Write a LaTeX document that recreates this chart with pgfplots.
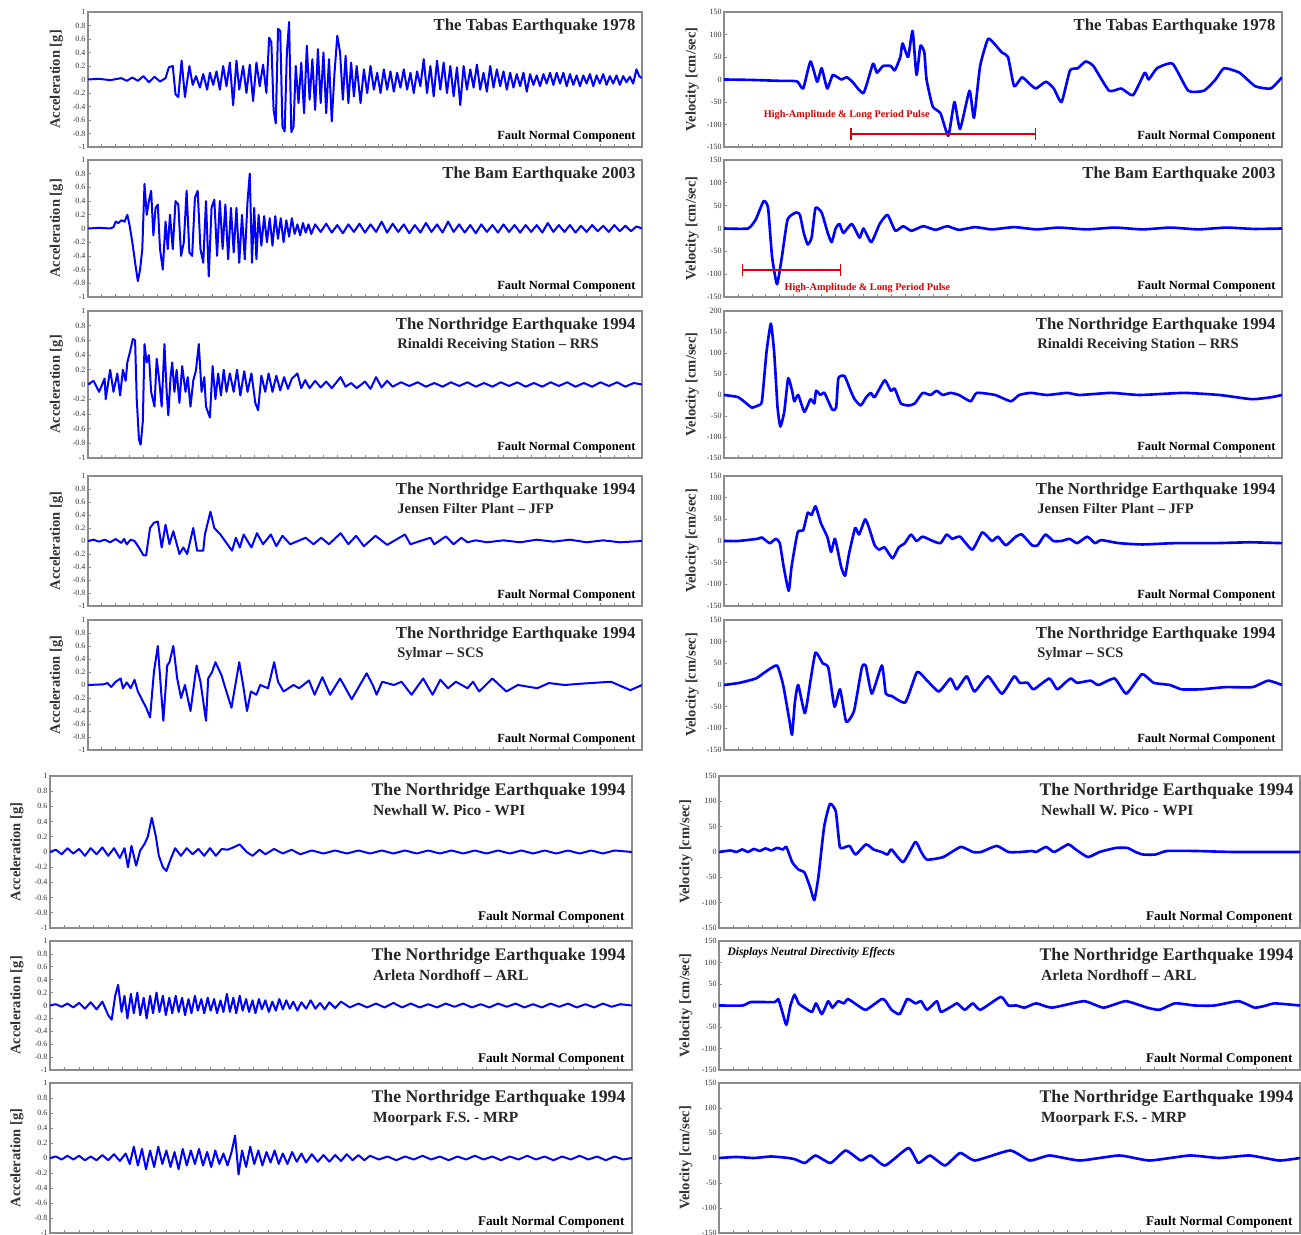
\documentclass[border=0pt]{standalone}
\usepackage{pgfplots}
\pgfplotsset{compat=1.18}
\usepackage{fontspec}
\setmainfont{Liberation Serif}
\usetikzlibrary{arrows.meta}

\pgfplotsset{
  wave/.style={scale only axis, anchor=north west, xmin=0, xmax=100, clip=true,
    axis line style={draw=black!45, line width=0.6pt},
    xtick={0,2.5,...,100}, xticklabels={}, xtick pos=bottom, ytick pos=left, tick align=inside,
    major tick length=1.2pt, every tick/.style={black!45, line width=0.3pt},
    yticklabel style={font=\fontsize{3.2}{3.5}\selectfont, inner xsep=0.8pt, text=black!80},
    /pgf/number format/assume math mode=true,
    ylabel style={at={(axis description cs:-0.057,0.5)}, anchor=center,
      font=\bfseries\fontsize{5.8}{6}\selectfont, text=black!80},
  },
  acc/.style={wave, ymin=-1, ymax=1,
    ytick={-1,-0.8,-0.6,-0.4,-0.2,0,0.2,0.4,0.6,0.8,1}, ylabel={Acceleration [g]}},
  vel/.style={wave, ymin=-150, ymax=150,
    ytick={-150,-100,-50,0,50,100,150}, ylabel={Velocity [cm/sec]}},
  tv/.style={blue, line width=1.05pt, line join=round, smooth, tension=0.3},
  ta/.style={blue, line width=0.8pt, line join=round},
  pulse/.style={red!85!black, line width=0.6pt, arrows={Bar[width=5pt]-Bar[width=5pt]}},
}

% panel captions
\newcommand{\tA}[1]{\node[anchor=north east, inner sep=0pt, font=\bfseries\fontsize{6.7}{8}\selectfont, text=black!85]
  at ([xshift=-2.4pt,yshift=-2.6pt]rel axis cs:1,1) {#1};}
\newcommand{\tB}[2]{\node[anchor=north east, inner sep=0pt, align=left, font=\bfseries\fontsize{6.7}{7.4}\selectfont, text=black!85]
  at ([xshift=-2.4pt,yshift=-2.6pt]rel axis cs:1,1) {#1\\{\fontsize{5.8}{7}\selectfont\hspace{0.6pt}#2}};}
\newcommand{\tC}[2]{\node[anchor=north east, inner sep=0pt, align=left, font=\bfseries\fontsize{7.1}{7.8}\selectfont, text=black!85]
  at ([xshift=-2.4pt,yshift=-2.8pt]rel axis cs:1,1) {#1\\{\fontsize{6.2}{7.4}\selectfont\hspace{0.6pt}#2}};}
\newcommand{\fa}{\node[anchor=base east, inner sep=0pt, font=\bfseries\fontsize{5}{6}\selectfont]
  at ([xshift=-2.4pt,yshift=2.8pt]rel axis cs:1,0) {Fault Normal Component};}
\newcommand{\fb}{\node[anchor=base east, inner sep=0pt, font=\bfseries\fontsize{5.3}{6}\selectfont]
  at ([xshift=-2.8pt,yshift=2.8pt]rel axis cs:1,0) {Fault Normal Component};}

\begin{document}
\begin{tikzpicture}
\useasboundingbox (0,0) rectangle (520.4pt,-494pt);

% ---------------- Tabas 1978 ----------------
\begin{axis}[acc, at={(35.2pt,-4.8pt)}, width=221.6pt, height=54pt]
\addplot[ta] coordinates {(0,0)(2,0.01)(4,-0.01)(6,0.02)(7,-0.02)(8,0.03)(9,-0.02)(10,0.05)(11,-0.04)(12,0.04)(13,-0.03)(14,0.02)(14.6,0.18)(15.3,0.2)(15.8,-0.22)(16.3,-0.26)(16.9,0.28)(17.5,-0.26)(18.3,0.2)(18.9,-0.08)(19.5,0.05)(20.2,-0.12)(20.8,0.08)(21.5,-0.15)(22,0.1)(22.6,-0.08)(23.2,0.12)(23.8,-0.15)(24.4,0.2)(25,-0.1)(25.6,0.25)(26.2,-0.38)(26.8,0.28)(27.3,-0.15)(28,0.2)(28.6,-0.2)(29.2,0.22)(29.8,-0.32)(30.4,0.25)(31,-0.1)(31.6,0.22)(32.2,-0.2)(32.7,0.62)(33.1,0.55)(33.5,-0.45)(33.9,-0.65)(34.3,0.75)(34.7,0.72)(35.1,-0.7)(35.5,-0.77)(35.9,0.4)(36.3,0.85)(36.7,-0.78)(37.1,-0.7)(37.5,0.2)(38,-0.35)(38.5,0.25)(39,-0.5)(39.5,0.5)(40,-0.3)(40.5,0.3)(41,-0.45)(41.5,0.45)(42,-0.35)(42.5,0.4)(43,-0.5)(43.5,0.3)(44,-0.62)(44.5,0.1)(45,0.65)(45.5,0.4)(46,-0.3)(46.5,0.35)(47,-0.35)(47.5,0.25)(48,-0.25)(48.5,0.2)(49.2,-0.35)(49.8,0.15)(50.4,-0.2)(51,0.2)(51.6,-0.15)(52.2,0.1)(52.8,-0.2)(53.4,0.15)(54,-0.15)(54.6,0.12)(55.2,-0.18)(55.8,0.1)(56.4,-0.12)(57,0.15)(57.6,-0.15)(58.2,0.1)(58.8,-0.2)(59.4,0.12)(60,-0.1)(60.6,0.3)(61.2,-0.2)(61.8,0.2)(62.4,-0.25)(63,0.28)(63.6,-0.15)(64.2,0.25)(64.8,-0.2)(65.4,0.2)(66,-0.25)(66.6,0.18)(67.2,-0.38)(67.8,0.2)(68.4,-0.15)(69,0.15)(69.6,-0.12)(70.2,0.22)(70.8,-0.15)(71.4,0.1)(72,-0.18)(72.6,0.2)(73.2,-0.12)(73.8,0.15)(74.4,-0.1)(75,0.12)(75.6,-0.15)(76.2,0.1)(76.8,-0.12)(77.4,0.08)(78,-0.1)(78.6,0.1)(79.2,-0.18)(79.8,0.08)(80.4,-0.08)(81,0.06)(81.6,-0.1)(82.2,0.08)(82.8,-0.06)(83.4,0.1)(84,-0.08)(84.6,0.1)(85.2,-0.06)(85.8,0.1)(86.4,-0.1)(87,0.08)(87.6,-0.08)(88.2,0.06)(88.8,-0.1)(89.4,0.06)(90,-0.06)(90.6,0.08)(91.2,-0.1)(91.8,0.06)(92.4,-0.06)(93,0.08)(93.6,-0.08)(94.2,0.05)(94.8,-0.06)(95.4,0.06)(96,-0.08)(96.6,0.05)(97.2,-0.04)(97.8,0.04)(98.4,-0.06)(99,0.15)(99.5,0.05)(100,0.02)};
\tA{The Tabas Earthquake 1978}
\fa
\end{axis}

\begin{axis}[vel, at={(289.6pt,-4.8pt)}, width=223.2pt, height=54pt]
\addplot[tv] coordinates {(0,0)(5,-1)(10,-3)(12,-3)(13.2,-5)(14.2,-20)(15.5,40)(16.7,-5)(17.5,25)(18.5,-20)(19.5,10)(21,0)(22,5)(23,-5)(25,-30)(26.7,35)(27.4,15)(28.5,30)(29.9,30)(30.6,20)(31.6,50)(32,80)(33,50)(33.8,108)(34.5,10)(35.2,75)(35.9,60)(36.3,0)(37.4,-60)(38.8,-75)(40.2,-125)(41.3,-50)(42.3,-110)(44,-25)(44.8,-85)(45.9,30)(47.3,90)(48.4,80)(49.8,60)(50.9,50)(52,-15)(53.4,5)(54.8,-10)(55.9,-20)(57.7,-5)(59.1,-20)(60.5,-50)(62,20)(63.4,25)(64.8,40)(66.2,30)(69,-25)(71.2,-20)(73.3,-35)(75.4,15)(76.1,0)(77.6,25)(80.4,35)(83.2,-25)(86,-25)(88.1,0)(89.6,25)(92.4,15)(95.2,-15)(98,-20)(100,5)};
\addplot[pulse] coordinates {(22.6,-121)(56,-121)};
\node[font=\bfseries\fontsize{4.1}{5}\selectfont, text=red!85!black] at (axis cs:22,-79) {High-Amplitude \& Long Period Pulse};
\tA{The Tabas Earthquake 1978}
\fa
\end{axis}

% ---------------- Bam 2003 ----------------
\begin{axis}[acc, at={(35.2pt,-64pt)}, width=221.6pt, height=54.8pt]
\addplot[ta] coordinates {(0,0)(2,0.01)(4,0)(4.6,0.02)(5,0.1)(5.5,0.08)(6,0.12)(6.6,0.1)(7.1,0.2)(7.5,0.05)(8,-0.2)(8.6,-0.55)(9,-0.77)(9.4,-0.6)(9.8,-0.3)(10.2,0.65)(10.6,0.2)(11,0.4)(11.4,0.55)(11.8,-0.1)(12.2,0.3)(12.6,0.35)(13,-0.3)(13.5,-0.6)(14,0.1)(14.4,-0.3)(14.8,0.2)(15.3,-0.3)(15.8,0.4)(16.3,0.35)(16.8,-0.4)(17.3,-0.2)(17.8,0.55)(18.3,-0.35)(18.8,-0.4)(19.3,0.45)(19.8,0.55)(20.3,-0.3)(20.8,-0.5)(21.3,0.4)(21.8,-0.7)(22.3,0.3)(22.8,0.42)(23.3,-0.4)(23.8,0.4)(24.3,-0.3)(24.8,0.35)(25.3,-0.45)(25.8,0.3)(26.3,-0.35)(26.8,0.3)(27.3,-0.5)(27.8,0.2)(28.3,-0.45)(28.8,0.4)(29.2,0.8)(29.6,-0.5)(30,0.3)(30.4,-0.45)(30.8,0.2)(31.3,-0.25)(31.8,0.18)(32.3,-0.2)(32.8,0.15)(33.3,-0.25)(33.8,0.18)(34.3,-0.15)(34.8,0.15)(35.3,-0.2)(35.8,0.12)(36.3,-0.12)(36.8,0.15)(37.3,-0.08)(37.8,0.06)(38.3,-0.1)(38.8,0.08)(39.3,-0.06)(39.8,0.06)(40.3,-0.08)(41,0.06)(42,-0.05)(43,0.07)(44,-0.06)(45,0.05)(46,-0.07)(47,0.06)(48,-0.05)(49,0.07)(50,-0.06)(51,0.06)(52,-0.05)(53,0.1)(54,-0.06)(55,0.07)(56,-0.05)(57,0.06)(58,-0.07)(59,0.05)(60,-0.06)(61,0.08)(62,-0.05)(63,0.06)(64,-0.06)(65,0.1)(66,-0.05)(67,0.06)(68,-0.06)(69,0.05)(70,-0.07)(71,0.06)(72,-0.05)(73,0.05)(74,-0.06)(75,0.06)(76,-0.05)(77,0.05)(78,-0.06)(79,0.05)(80,-0.05)(81,0.05)(82,-0.06)(83,0.08)(84,-0.05)(85,0.05)(86,-0.05)(87,0.05)(88,-0.06)(89,0.04)(90,-0.05)(91,0.05)(92,-0.04)(93,0.04)(94,-0.05)(95,0.05)(96,-0.04)(97,0.04)(98,-0.04)(99,0.03)(100,0)};
\tA{The Bam Earthquake 2003}
\fa
\end{axis}

\begin{axis}[vel, at={(289.6pt,-64pt)}, width=223.2pt, height=54.8pt]
\addplot[tv] coordinates {(0,0)(4.3,0)(5.7,20)(7.1,60)(7.9,45)(8.6,-60)(9.5,-122)(10.4,-60)(11.4,20)(12.9,35)(13.6,30)(14.3,-10)(15,-35)(15.7,-20)(16.4,45)(17.5,35)(18.6,-10)(19.3,-30)(20,0)(20.7,10)(21.4,-10)(22.9,10)(24.3,-20)(25,0)(26.4,-30)(27.9,10)(29.3,30)(30.7,-5)(32.1,5)(33.6,-5)(35.7,5)(37.9,-3)(40,5)(42.1,-3)(45,3)(48,-2)(52,3)(56,-2)(60,2)(65,-2)(70,2)(75,-2)(80,2)(85,-2)(90,2)(95,-1)(100,0)};
\addplot[pulse] coordinates {(3.2,-91)(21,-91)};
\node[font=\bfseries\fontsize{4.1}{5}\selectfont, text=red!85!black] at (axis cs:25.7,-130) {High-Amplitude \& Long Period Pulse};
\tA{The Bam Earthquake 2003}
\fa
\end{axis}

% ---------------- Northridge: Rinaldi ----------------
\begin{axis}[acc, at={(35.2pt,-124.4pt)}, width=221.6pt, height=58.8pt]
\addplot[ta] coordinates {(0,0)(1,0.05)(2,-0.1)(3,0.08)(3.2,-0.2)(4,0.2)(4.6,-0.1)(5.3,0.15)(5.8,-0.15)(6.3,0.2)(6.8,0.05)(7.1,0.3)(7.6,0.45)(8.1,0.62)(8.5,0.6)(8.8,-0.2)(9.2,-0.75)(9.5,-0.82)(9.9,-0.5)(10.2,0.55)(10.6,0.3)(11,0.4)(11.4,-0.1)(12,-0.3)(12.4,0.35)(12.8,0.1)(13.3,-0.3)(13.8,0.55)(14.2,-0.1)(14.5,-0.42)(14.9,0.1)(15.2,0.3)(15.6,-0.1)(16,0.2)(16.5,-0.25)(17,0.25)(17.6,-0.1)(18,0.1)(18.5,-0.3)(19,0.05)(19.5,0.2)(20,0.55)(20.5,-0.1)(21,0.1)(21.3,-0.3)(22,-0.45)(22.5,0.25)(23,-0.2)(23.5,0.15)(24,-0.15)(24.5,0.2)(25,-0.1)(25.6,0.15)(26.3,-0.1)(26.9,0.2)(27.5,-0.15)(28.2,0.18)(28.8,-0.1)(29.5,0.15)(30.2,-0.25)(30.7,-0.35)(31.3,0.12)(32,-0.1)(32.6,0.15)(33.3,-0.1)(34,0.12)(34.7,-0.08)(35.4,0.1)(36.1,-0.06)(36.8,0.08)(37.8,0.15)(38.5,-0.05)(39.2,0.06)(40,-0.05)(41,0.05)(42,-0.04)(43,0.04)(44,-0.05)(45.6,0.1)(46.5,-0.03)(47.5,0.02)(48.5,-0.05)(50,0.04)(51,-0.06)(52,0.1)(53,-0.04)(54,0.05)(55,-0.03)(56.5,0.03)(58,-0.02)(59.5,0.03)(61,-0.03)(62.5,0.02)(64,-0.03)(65.5,0.03)(67,-0.02)(68.5,0.03)(70,-0.03)(71.5,0.02)(73,-0.03)(74.5,0.03)(76,-0.02)(77.5,0.03)(79,-0.03)(80.5,0.02)(82,-0.03)(83.5,0.03)(85,-0.02)(86.5,0.03)(88,-0.03)(89.5,0.02)(91,-0.03)(92.5,0.03)(94,-0.02)(95.5,0.03)(97,-0.03)(98.5,0.02)(100,0)};
\tB{The Northridge Earthquake 1994}{Rinaldi Receiving Station -- RRS}
\fa
\end{axis}

\begin{axis}[vel, at={(289.6pt,-124.4pt)}, width=223.2pt, height=58.8pt, ymax=200, ytick={-150,-100,-50,0,50,100,150,200}]
\addplot[tv] coordinates {(0,0)(2.5,-5)(4,-20)(5,-30)(6.1,-25)(6.8,-15)(7.6,100)(8.4,170)(9,100)(9.6,-30)(10.1,-75)(10.8,-40)(11.5,40)(12.2,10)(12.6,-15)(13.3,0)(14.4,-40)(15.5,-10)(16.2,-20)(16.5,10)(17.3,0)(18,5)(19.4,-35)(20.1,-30)(20.5,40)(21.6,45)(22.7,10)(23.4,-10)(24.5,-25)(25.5,-5)(26.3,5)(27,-5)(28.8,35)(29.9,10)(30.6,15)(31.7,-20)(33.1,-25)(34.2,-20)(35.6,5)(37,0)(38.1,10)(39.2,0)(40.6,5)(42.1,0)(44.2,-15)(45.3,5)(48.6,0)(51.4,-15)(52.9,0)(55,5)(57.9,0)(61.5,5)(63.7,0)(69.4,5)(74.5,0)(82.4,5)(88.8,0)(94.6,-10)(98.2,-5)(100,0)};
\tB{The Northridge Earthquake 1994}{Rinaldi Receiving Station -- RRS}
\fa
\end{axis}

% ---------------- Northridge: Jensen ----------------
\begin{axis}[acc, at={(35.2pt,-190.4pt)}, width=221.6pt, height=52pt]
\addplot[ta] coordinates {(0,0)(1,0.02)(2,-0.01)(3,0.02)(4,-0.02)(5,0.03)(6,-0.03)(6.5,0.03)(7,-0.05)(7.7,0.02)(8.4,0)(9.2,-0.1)(10,-0.22)(10.5,-0.22)(11.2,0.2)(11.9,0.28)(12.6,0.3)(13.3,-0.1)(14,0.25)(14.7,-0.05)(15.4,0.15)(16.5,-0.2)(17.2,-0.1)(17.9,-0.2)(19,0.2)(19.7,-0.15)(20.8,-0.15)(21.1,0.1)(22.1,0.45)(22.8,0.2)(23.9,0.1)(26,-0.15)(26.7,0.05)(27.4,-0.1)(28.1,0.1)(29.5,-0.1)(30.5,0.12)(31.6,-0.05)(33,0.1)(34,-0.08)(35.1,0.08)(36.5,-0.05)(39.3,0.05)(40.7,-0.05)(42.1,0.05)(43.5,-0.05)(45.6,0.12)(47,-0.05)(48.4,0.08)(49.8,-0.08)(51.9,0.08)(54,-0.06)(57.2,0.1)(58.2,-0.05)(61.8,0.05)(62.5,-0.05)(64.6,0.07)(66,-0.05)(67.4,0.05)(68.5,-0.02)(70,0.01)(72,-0.02)(75,0.01)(78,-0.02)(81,0.02)(84,-0.01)(87,0.02)(90,-0.02)(93,0.01)(96,-0.02)(100,0)};
\tB{The Northridge Earthquake 1994}{Jensen Filter Plant -- JFP}
\fa
\end{axis}

\begin{axis}[vel, at={(289.6pt,-190.4pt)}, width=223.2pt, height=52pt]
\addplot[tv] coordinates {(0,0)(2.5,0)(6,5)(6.8,8)(8.2,-5)(9.3,5)(10,-5)(10.7,-60)(11.6,-115)(12.1,-60)(13.2,20)(14.2,25)(15,65)(15.7,60)(16.4,80)(17.4,40)(18.5,10)(19.2,-25)(19.9,5)(21,-60)(21.7,-80)(22.4,-30)(23.5,30)(24.2,15)(25.3,50)(26,30)(27,-10)(27.8,-20)(28.8,-15)(30.2,-40)(31.3,-15)(32.4,-5)(33.5,15)(34.5,0)(35.6,10)(37.4,0)(38.8,-5)(39.9,15)(40.9,5)(42.3,10)(44.5,-20)(46.3,20)(48,0)(49.1,10)(50.5,-10)(52.3,10)(53.4,15)(55.2,-10)(56.2,-10)(57.6,15)(59,0)(60.5,0)(61.9,5)(63.3,-5)(65.1,10)(66.5,-5)(67.6,2)(70.8,-5)(75,-8)(80.8,-5)(87.9,-5)(94.3,-3)(100,-5)};
\tB{The Northridge Earthquake 1994}{Jensen Filter Plant -- JFP}
\fa
\end{axis}

% ---------------- Northridge: Sylmar ----------------
\begin{axis}[acc, at={(35.2pt,-248pt)}, width=221.6pt, height=52pt]
\addplot[ta] coordinates {(0,0)(2.8,0.01)(3.5,0.03)(4.2,-0.03)(5,0.05)(5.9,0.1)(6.3,-0.05)(7,0.04)(7.7,-0.05)(8.4,0.08)(9,-0.1)(10.5,-0.35)(11.2,-0.5)(11.9,0.2)(12.6,0.6)(13.2,-0.1)(13.6,-0.55)(14.3,0.3)(14.7,0.35)(15.4,0.6)(16.1,0.1)(16.8,-0.2)(17.5,0)(18.5,-0.4)(19.6,0.3)(20.3,0.05)(21.3,-0.55)(21.7,0.1)(22.4,0.2)(23,0.35)(24.1,0.15)(24.8,-0.05)(25.9,-0.35)(27.3,0.35)(28,0)(28.7,-0.4)(29.4,-0.1)(30.4,-0.15)(31.1,0)(32.5,-0.05)(33.6,0.35)(34.3,0.05)(35.3,-0.1)(37.1,0)(38.1,-0.05)(39.9,0.07)(40.9,-0.15)(42.3,0.12)(43.7,-0.15)(45.5,0.1)(46.5,-0.05)(47.6,-0.22)(50.3,0.18)(51.4,0)(52.1,-0.15)(53.1,0.05)(55.2,0)(56.6,0.05)(58.4,-0.15)(60.5,0.1)(62.2,-0.15)(63.6,0.08)(65,-0.05)(66.4,0.05)(68.5,-0.05)(69.5,0.05)(70.6,-0.1)(73,0.1)(75.5,-0.1)(77.6,0)(81.1,-0.05)(83.2,0.03)(86,0)(89,0.02)(94.4,0.05)(97.9,-0.08)(100,0)};
\tB{The Northridge Earthquake 1994}{Sylmar -- SCS}
\fa
\end{axis}

\begin{axis}[vel, at={(289.6pt,-248pt)}, width=223.2pt, height=52pt]
\addplot[tv] coordinates {(0,0)(2.8,5)(5.7,15)(7.4,30)(9.5,45)(10.6,0)(11.7,-80)(12.2,-115)(12.7,-40)(13.3,0)(14.5,-65)(15.5,10)(16.4,75)(17.7,50)(18.7,40)(19.8,-50)(20.8,-10)(21.9,-85)(23.3,-60)(24.7,40)(25.4,45)(26.5,-20)(28.3,45)(29,-20)(30,-25)(32.5,-40)(34.6,30)(36.4,10)(38.5,-15)(40.6,15)(41.7,-10)(43.5,20)(44.9,-15)(47.3,20)(49.8,-20)(52,20)(53,5)(54.4,5)(55.5,-10)(58.3,15)(59.7,-10)(61.1,5)(62.2,15)(63.3,5)(65.7,10)(67.1,0)(70,15)(72.1,-20)(74.9,25)(77,5)(79.9,0)(82,-10)(85.5,-10)(89.8,-5)(94.7,-5)(97.5,10)(100,0)};
\tB{The Northridge Earthquake 1994}{Sylmar -- SCS}
\fa
\end{axis}

% ---------------- Northridge: Newhall W. Pico ----------------
\begin{axis}[acc, at={(20pt,-310.4pt)}, width=232.8pt, height=60.8pt]
\addplot[ta] coordinates {(0,0)(1,0.03)(2,-0.03)(3,0.05)(4,-0.02)(5,0.04)(6,-0.05)(7,0.05)(8,-0.03)(9,0.06)(10,-0.05)(11,0.05)(12,-0.08)(12.8,0.05)(13.4,-0.2)(14,0.08)(14.8,-0.18)(15.5,0.02)(16.2,0.1)(16.8,0.2)(17.5,0.45)(18.2,0.2)(18.7,-0.05)(19.4,-0.2)(20,-0.25)(20.7,-0.1)(21.5,0.05)(22.5,-0.05)(23.5,0.05)(24.5,-0.03)(25.5,0.04)(26.5,-0.05)(27.5,0.05)(28.5,-0.05)(29.5,0.04)(30.5,0.03)(31.5,0.06)(32.6,0.1)(33.8,0)(34.8,-0.05)(36,0.03)(37,-0.03)(38.5,0.04)(40,-0.02)(41.5,0.03)(43,-0.03)(45,0.02)(47,-0.02)(49,0.02)(51,-0.02)(53,0.02)(55,-0.02)(57,0.02)(59,-0.02)(61,0.02)(63,-0.02)(65,0.02)(67,-0.02)(69,0.02)(71,-0.02)(73,0.02)(75,-0.02)(77,0.02)(79,-0.02)(81,0.02)(83,-0.02)(85,0.02)(87,-0.02)(89,0.02)(91,-0.02)(93,0.02)(95,-0.02)(97,0.02)(100,0)};
\tC{The Northridge Earthquake 1994}{Newhall W. Pico - WPI}
\fb
\end{axis}

\begin{axis}[vel, at={(287.6pt,-310.4pt)}, width=232.4pt, height=60.8pt]
\addplot[tv] coordinates {(0,0)(2,3)(3,0)(4,5)(5,0)(6,6)(7,2)(8,7)(9,3)(10,8)(11,5)(11.6,10)(12.6,-20)(13.7,-35)(14.7,-40)(15.7,-70)(16.4,-95)(17.1,-50)(18.1,50)(19.1,95)(20.1,80)(20.8,10)(21.8,10)(22.5,12)(23.5,-5)(25.3,15)(26.6,5)(28,0)(29,-5)(29.7,5)(31.7,-20)(33.8,20)(34.8,0)(35.8,-15)(38.6,-10)(41.6,10)(43.7,0)(45.1,0)(47.8,12)(49.8,0)(51.9,0)(53.9,2)(54.6,0)(56.3,10)(57.7,0)(60.1,15)(61.4,5)(63.5,-10)(65.5,0)(68.3,8)(70.3,8)(71.7,0)(73,-5)(75.1,-5)(77.1,2)(81.9,2)(88.7,0)(100,0)};
\tC{The Northridge Earthquake 1994}{Newhall W. Pico - WPI}
\fb
\end{axis}

% ---------------- Northridge: Arleta Nordhoff ----------------
\begin{axis}[acc, at={(20pt,-376.4pt)}, width=232.8pt, height=51.6pt]
\addplot[ta] coordinates {(0,0)(1,0.02)(2,-0.02)(3,0.03)(4,-0.03)(5,0.04)(6,-0.05)(7,0.05)(8,-0.06)(9,0.06)(10,-0.15)(10.6,-0.22)(11.2,0.15)(11.7,0.32)(12.3,-0.1)(12.8,0.15)(13.3,-0.2)(13.9,0.18)(14.4,-0.12)(15,0.2)(15.5,-0.15)(16.1,0.12)(16.6,-0.2)(17.2,0.15)(17.7,-0.12)(18.3,0.2)(18.8,-0.1)(19.4,0.15)(19.9,-0.15)(20.5,0.12)(21,-0.12)(21.6,0.15)(22.1,-0.1)(22.7,0.12)(23.2,-0.15)(23.8,0.1)(24.3,-0.12)(24.9,0.15)(25.4,-0.08)(26,0.1)(26.5,-0.12)(27.1,0.12)(27.6,-0.08)(28.2,0.1)(28.7,-0.12)(29.3,0.08)(29.8,-0.1)(30.4,0.18)(30.9,-0.1)(31.5,0.12)(32,-0.12)(32.6,0.15)(33.1,-0.08)(33.7,0.1)(34.2,-0.1)(34.8,0.08)(35.3,-0.12)(35.9,0.1)(36.4,-0.06)(37,0.08)(37.6,-0.1)(38.2,0.06)(38.8,-0.08)(39.4,0.1)(40,-0.06)(40.6,0.08)(41.2,-0.05)(41.8,0.06)(42.5,-0.08)(43.2,0.05)(44,-0.05)(44.8,0.08)(45.6,-0.05)(46.4,0.04)(47.2,-0.06)(48,0.05)(49,-0.04)(50,0.06)(51.5,-0.03)(53,0.03)(54.5,-0.03)(56,0.03)(57.5,-0.03)(59,0.04)(60.5,-0.03)(62,0.03)(63.5,-0.03)(65,0.02)(66.5,-0.03)(68,0.03)(69.5,-0.02)(71,0.03)(72.5,-0.03)(74,0.02)(75.5,-0.03)(77,0.03)(78.5,-0.02)(80,0.03)(81.5,-0.03)(83,0.02)(84.5,-0.03)(86,0.03)(87.5,-0.02)(89,0.03)(90.5,-0.03)(92,0.02)(93.5,-0.03)(95,0.03)(96.5,-0.02)(98,0.02)(100,0)};
\tC{The Northridge Earthquake 1994}{Arleta Nordhoff -- ARL}
\fb
\end{axis}

\begin{axis}[vel, at={(287.6pt,-376.4pt)}, width=232.4pt, height=51.6pt]
\addplot[tv] coordinates {(0,0)(4.1,0)(5.5,8)(9.6,8)(10.2,15)(10.9,-15)(11.6,-45)(12.3,0)(13,25)(13.7,5)(14.7,-5)(16,-15)(16.7,5)(17.7,-20)(18.8,10)(19.5,-5)(20.5,10)(21.5,5)(22.2,15)(23.9,0)(25.3,-10)(28,15)(28.7,10)(29.7,-10)(31.1,-20)(32.4,15)(33.8,5)(34.8,10)(35.8,-10)(37.5,10)(38.2,-15)(40.3,0)(41,5)(42.3,-10)(43.7,5)(45,-10)(48.5,20)(49.8,0)(51.2,0)(52.6,-5)(54.6,5)(57.3,-5)(62.8,10)(66.2,-5)(70,10)(73.7,-5)(75.8,-10)(78.5,5)(81.9,0)(85.3,0)(89.4,10)(92.2,-5)(94.2,0)(95.6,5)(100,0)};
\node[anchor=north west, inner sep=0pt, font=\bfseries\itshape\fontsize{4.6}{5}\selectfont]
  at ([xshift=3.2pt,yshift=-2.4pt]rel axis cs:0,1) {Displays Neutral Directivity Effects};
\tC{The Northridge Earthquake 1994}{Arleta Nordhoff -- ARL}
\fb
\end{axis}

% ---------------- Northridge: Moorpark ----------------
\begin{axis}[acc, at={(20pt,-433.2pt)}, width=232.8pt, height=60pt]
\addplot[ta] coordinates {(0,0)(1,0.02)(2,-0.02)(3,0.03)(4,-0.02)(5,0.03)(6,-0.03)(7,0.02)(8,-0.03)(9,0.04)(10,-0.03)(11,0.05)(12,-0.04)(13,0.06)(13.7,-0.08)(14.4,0.15)(15.1,-0.1)(15.8,0.12)(16.5,-0.15)(17.2,0.1)(17.9,-0.12)(18.6,0.15)(19.3,-0.08)(20,0.1)(20.7,-0.12)(21.4,0.08)(22.1,-0.15)(22.8,0.12)(23.5,-0.1)(24.2,0.1)(24.9,-0.08)(25.6,0.12)(26.3,-0.1)(27,0.08)(27.7,-0.12)(28.4,0.1)(29.1,-0.08)(29.8,0.06)(30.5,-0.1)(31.2,0.08)(31.8,0.3)(32.4,-0.22)(33,0.1)(33.7,-0.12)(34.4,0.15)(35.1,-0.08)(35.8,0.1)(36.5,-0.1)(37.2,0.08)(37.9,-0.06)(38.6,0.1)(39.3,-0.08)(40,0.06)(40.8,-0.08)(41.6,0.08)(42.4,-0.05)(43.2,0.06)(44,-0.06)(45,0.05)(46,-0.05)(47,0.04)(48,-0.05)(49,0.04)(50,-0.04)(51,0.05)(52,-0.03)(53,0.04)(54,-0.03)(55,0.03)(56.5,-0.02)(58,0.02)(59.5,-0.03)(61,0.02)(62.5,-0.02)(64,0.03)(65.5,-0.02)(67,0.02)(68.5,-0.03)(70,0.02)(71.5,-0.02)(73,0.03)(74.5,-0.02)(76,0.02)(77.5,-0.03)(79,0.02)(80.5,-0.02)(82,0.03)(83.5,-0.02)(85,0.02)(86.5,-0.03)(88,0.02)(89.5,-0.02)(91,0.03)(92.5,-0.02)(94,0.02)(95.5,-0.03)(97,0.02)(98.5,-0.02)(100,0)};
\tC{The Northridge Earthquake 1994}{Moorpark F.S. - MRP}
\fb
\end{axis}

\begin{axis}[vel, at={(287.6pt,-433.2pt)}, width=232.4pt, height=60pt]
\addplot[tv] coordinates {(0,0)(3,2)(6,0)(9,3)(12,0)(13.2,-3)(14.8,-10)(16.6,5)(19.2,-10)(21.8,15)(24.4,-5)(26.1,5)(28.6,-15)(32.6,20)(34.3,-10)(36.3,5)(38.9,-15)(41.5,10)(44.1,-5)(50.1,15)(53.5,-5)(56.9,5)(62.1,-5)(68.9,5)(74.1,-5)(81,5)(86.1,0)(91.3,5)(96.4,-5)(100,0)};
\tC{The Northridge Earthquake 1994}{Moorpark F.S. - MRP}
\fb
\end{axis}

\end{tikzpicture}
\end{document}
